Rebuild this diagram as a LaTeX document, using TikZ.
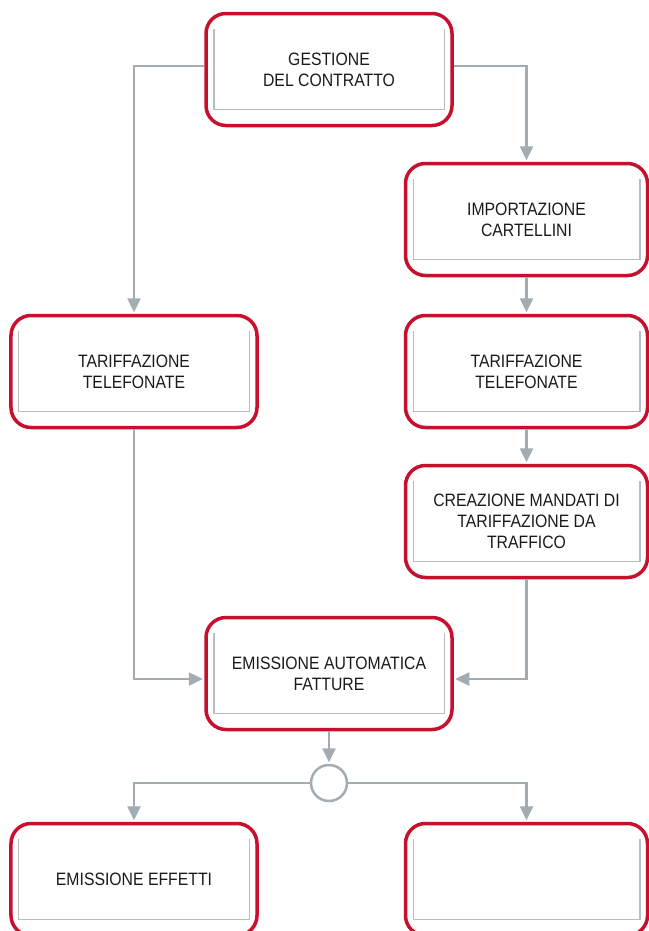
\documentclass[tikz,border=0pt]{standalone}
\usepackage{fontspec}
\setmainfont{Liberation Sans}[FakeStretch=0.88]
\usetikzlibrary{arrows.meta}
\definecolor{boxred}{HTML}{C8102E}
\definecolor{linegray}{HTML}{A3ABB3}
\definecolor{framegray}{HTML}{B8BDC2}
\definecolor{textdark}{HTML}{1A1A1A}
\begin{document}
\begin{tikzpicture}
  [x=1bp,y=-1bp,
   every node/.style={font=\fontsize{18}{21}\selectfont,text=textdark,align=center},
   phase/.style={rectangle,draw=boxred,line width=3.5bp,rounded corners=20bp,
     minimum width=246bp,minimum height=112bp,inner sep=0pt},
   narrow/.style={minimum width=242bp},
   conn/.style={draw=linegray,line width=2.5bp,
     -{Triangle[width=13bp,length=14bp]},shorten >=1.5bp},
   frame/.style={draw=framegray,line width=1.5bp}]
\useasboundingbox (0,0) rectangle (649,931);
\clip (0,0) rectangle (649,931);

\node (gest)[phase] at (329,69.5) {GESTIONE\\DEL CONTRATTO};
  \node (imp)[phase,narrow] at (526.5,219.5) {IMPORTAZIONE\\CARTELLINI};
  \node (ltar)[phase] at (134,371.5) {TARIFFAZIONE\\TELEFONATE};
  \node (rtar)[phase,narrow] at (526.5,371.5) {TARIFFAZIONE\\TELEFONATE};
  \node (crea)[phase,narrow] at (526.5,521.5) {CREAZIONE MANDATI DI\\TARIFFAZIONE DA\\TRAFFICO};
  \node (emis)[phase] at (329,673.5) {EMISSIONE AUTOMATICA\\FATTURE};
  \node (circ)[circle,draw=linegray,line width=2.5bp,fill=white,minimum size=36bp,inner sep=0pt] at (329,783) {};
  \node (eff)[phase] at (134,879.5) {EMISSIONE EFFETTI};
  \node (blank)[phase,narrow] at (526.5,879.5) {};

% inner frames, open at the top
\foreach \n in {gest,imp,ltar,rtar,crea,emis,eff,blank}
  \draw [frame] ([xshift=9.5bp,yshift=-17bp]\n.north west) -- ([xshift=9.5bp,yshift=18bp]\n.south west)
    -- ([xshift=-9.5bp,yshift=18bp]\n.south east) -- ([xshift=-9.5bp,yshift=-17bp]\n.north east);

 \draw [conn] ([yshift=3.5bp]gest.west) -| (ltar.north);
 \draw [conn] ([yshift=3.5bp]gest.east) -| (imp.north);
 
    \draw [conn] (imp) -- (rtar);
    \draw [conn] (rtar) -- (crea);
 
 \draw [conn] (ltar.south) |- ([yshift=-5.5bp]emis.west);
 \draw [conn] (crea.south) |- ([yshift=-5.5bp]emis.east);
 
   \draw [conn] (emis) -- (circ);
 \draw [conn] (circ.west) -| (eff.north);
 \draw [conn] (circ.east) -| (blank.north);
;
\end{tikzpicture}
\end{document}
